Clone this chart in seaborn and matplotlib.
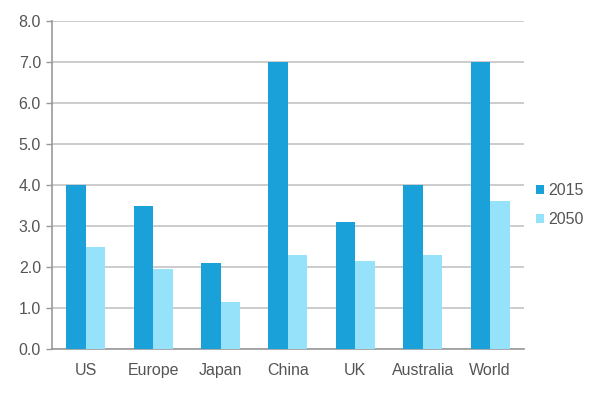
import numpy as np
import pandas as pd
import matplotlib
matplotlib.use("Agg")
import matplotlib.pyplot as plt
import seaborn as sns
from matplotlib.ticker import FixedLocator

regions = ["US", "Europe", "Japan", "China", "UK", "Australia", "World"]
vals_2015 = [4.0, 3.5, 2.1, 7.0, 3.1, 4.0, 7.0]
vals_2050 = [2.5, 1.95, 1.15, 2.3, 2.15, 2.3, 3.6]
years = ["2015", "2050"]
colors = ["#1BA1DA", "#96E2FB"]

df = pd.DataFrame({
    "region": regions * 2,
    "year": [years[0]] * len(regions) + [years[1]] * len(regions),
    "value": vals_2015 + vals_2050,
})

sns.set_style("white")
plt.rcParams["font.family"] = ["Liberation Sans", "DejaVu Sans"]
text_color = "#555555"
axis_color = "#999999"
fs = 11.5

fig = plt.figure(figsize=(5.98, 3.98), dpi=100)
ax = fig.add_axes([0.087, 0.123, 0.789, 0.824])

sns.barplot(data=df, x="region", y="value", hue="year", palette=colors,
            width=0.58, gap=0, saturation=1, linewidth=0, ax=ax, zorder=3)

ax.set_ylim(0, 8)
ax.set_xlim(-0.5, len(regions) - 0.5)
ax.set_yticks(np.arange(0, 8.1, 1.0))
ax.set_yticklabels([f"{v:.1f}" for v in np.arange(0, 8.1, 1.0)])
ax.yaxis.grid(True, color="#cccccc", linewidth=1.4, zorder=0)
ax.set_axisbelow(True)
ax.set_xlabel("")
ax.set_ylabel("")

for side in ["top", "right"]:
    ax.spines[side].set_visible(False)
for side in ["left", "bottom"]:
    ax.spines[side].set_color(axis_color)
    ax.spines[side].set_linewidth(1.2)

ax.xaxis.set_minor_locator(FixedLocator(np.arange(-0.5, len(regions), 1.0)))
ax.tick_params(axis="x", which="major", length=0, pad=10, labelsize=fs,
               labelcolor=text_color)
ax.tick_params(axis="x", which="minor", length=4, color=axis_color, width=1)
ax.tick_params(axis="y", which="major", length=4, color=axis_color, width=1,
               left=True, pad=4, labelsize=fs, labelcolor=text_color)

handles, labels = ax.get_legend_handles_labels()
ax.legend_.remove()
leg = fig.legend(handles, labels, loc="center left", bbox_to_anchor=(0.872, 0.485),
                 frameon=False, fontsize=fs, handlelength=0.5, handleheight=0.5,
                 handletextpad=0.25, labelspacing=0.85, labelcolor=text_color)

fig.savefig("out.png", dpi=100)
